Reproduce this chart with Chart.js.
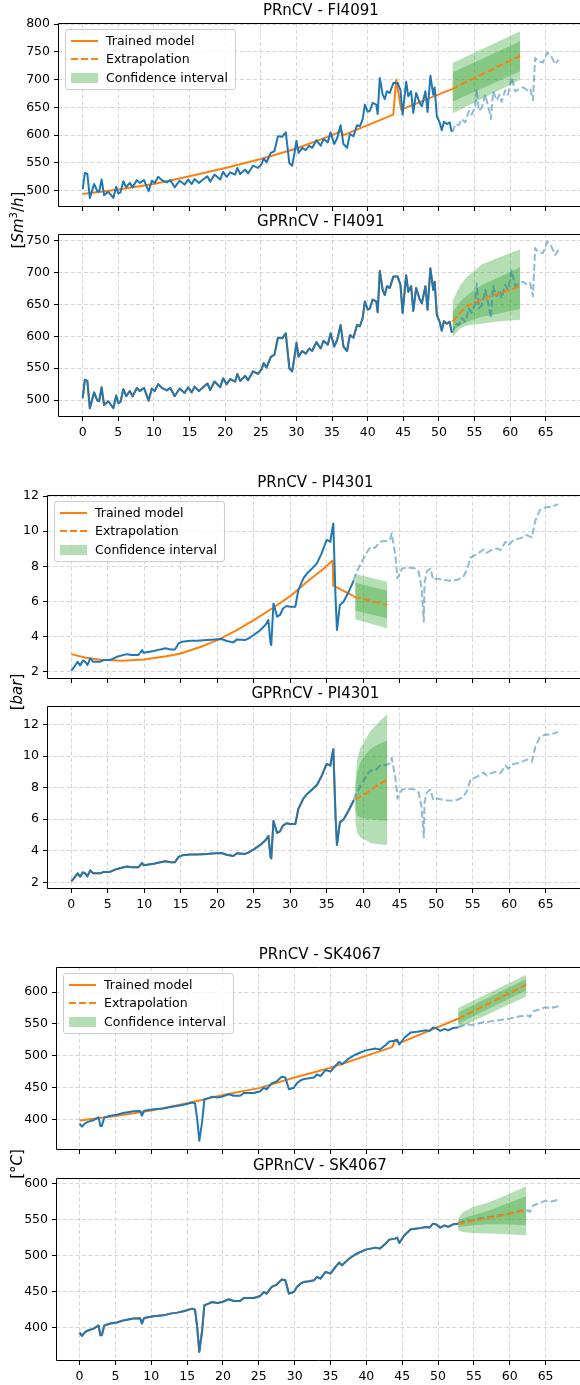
<!DOCTYPE html>
<html>
<head>
<meta charset="utf-8">
<script src="https://cdn.jsdelivr.net/npm/chart.js@4/dist/chart.umd.min.js"></script>
<style>
    body { margin: 0; background: #fff; font-family: "DejaVu Sans", sans-serif; color: #000; }
    #fig { position: relative; width: 580px; height: 1385px; overflow: hidden; }
    #fig canvas { position: absolute; left: 0; }
    .title { position: absolute; font-size: 15px; transform: translate(-50%, -50%); white-space: nowrap; }
    .ylab { position: absolute; font-size: 15px; transform: translate(-50%, -50%) rotate(-90deg); white-space: nowrap; }
    .legend { position: absolute; width: 171px; height: 61px; box-sizing: border-box; border: 1px solid #cccccc;
              border-radius: 3px; background: rgba(255, 255, 255, 0.8); font-size: 12.5px; z-index: 5; }
    .legend .row { position: absolute; left: 0; height: 16px; width: 100%; }
    .legend .txt { position: absolute; left: 40px; top: 0; line-height: 16px; }
    .legend .h { position: absolute; left: 5px; width: 27px; }
    .h.solid { top: 7px; height: 2px; background: #ff7f0e; }
    .h.dash { top: 7px; height: 2px; background: repeating-linear-gradient(90deg, #ff7f0e 0 7px, transparent 7px 10px); }
    .h.patch { top: 3px; height: 10px; background: rgba(44, 160, 44, 0.35); }
</style>
</head>
<body>
<div id="fig"></div>

<script>
// ---------- Ticks ----------
const xTicks = [0, 5, 10, 15, 20, 25, 30, 35, 40, 45, 50, 55, 60, 65];
const fiPrYTicks = [500, 550, 600, 650, 700, 750, 800];
const fiGprYTicks = [500, 550, 600, 650, 700, 750];
const piYTicks = [2, 4, 6, 8, 10, 12];
const skYTicks = [400, 450, 500, 550, 600];

// ---------- FI4091 ----------
const fiTrainX = [
    0, 0.3, 0.65, 1.0, 1.6, 2.05, 2.3, 2.65, 3.0, 3.6,
    4.3, 4.7, 5.0, 5.3, 5.7, 6.1, 6.6, 7.0, 7.6, 8.0,
    8.6, 9.25, 9.7, 10.1, 10.6, 11.1, 11.8, 12.3, 12.9, 13.6,
    14.3, 14.8, 15.3, 15.7, 16.3, 16.9, 17.5, 17.9, 18.5, 19.3,
    19.7, 20.2, 20.7, 21.4, 21.7, 22.1, 22.8, 23.2, 23.9, 24.6,
    25.1, 25.4, 25.8, 26.4, 26.9, 27.4, 28.0, 28.5, 29.0, 29.4,
    29.7, 30.0, 30.3, 30.8, 31.3, 31.8, 32.2, 32.8, 33.4, 33.8,
    34.4, 34.8, 35.3, 35.7, 36.2, 36.6, 37.1, 37.5, 38.0, 38.5,
    38.9, 39.3, 39.6, 40.0, 40.3, 40.7, 41.2, 41.4, 41.7, 42.1,
    42.4, 42.7, 43.1, 43.6, 44.2, 44.6, 44.9, 45.4, 45.7, 46.1,
    46.4, 46.8, 47.3, 47.6, 48.1, 48.4, 48.8, 49.2, 49.4, 49.7,
    50.1, 50.4, 50.7, 51.1, 51.5, 51.8
];
const fiTrainY = [
    503, 532, 530, 487, 512, 499, 498, 520, 492, 498,
    487, 507, 495, 497, 517, 506, 514, 506, 519, 514,
    519, 499, 518, 514, 525, 519, 515, 519, 506, 518,
    511, 520, 512, 521, 514, 520, 526, 516, 529, 520,
    534, 525, 533, 529, 541, 530, 538, 531, 545, 541,
    548, 558, 551, 568, 571, 598, 597, 605, 550, 545,
    566, 590, 568, 577, 573, 581, 577, 591, 581, 593,
    587, 605, 584, 594, 618, 584, 577, 602, 598, 618,
    616, 629, 655, 642, 644, 658, 655, 638, 703, 673,
    665, 679, 676, 694, 694, 681, 637, 696, 670, 679,
    640, 676, 658, 652, 679, 642, 707, 673, 686, 634,
    623, 609, 624, 620, 623, 606
];
const fiTestX = [
    51.8, 52.0, 52.3, 52.8, 53.2, 53.7, 54.2, 54.6, 55.1, 55.3,
    55.6, 56.0, 56.5, 57.0, 57.3, 57.6, 58.1, 58.5, 58.8, 59.3,
    59.7, 60.2, 60.7, 61.4, 61.8, 62.4, 62.8, 63.2, 63.5, 63.9,
    64.6, 65.2, 65.8, 66.3, 66.8
];
const fiTestY = [
    606, 608, 620, 618, 629, 623, 644, 637, 652, 683,
    644, 649, 673, 647, 629, 679, 663, 673, 660, 681,
    673, 704, 679, 684, 686, 681, 684, 663, 739, 733,
    731, 749, 741, 728, 736
];
// PRnCV
const fiPrFitX = [0, 5, 10, 15, 20, 25, 30, 35, 36.3, 36.6, 43.6, 44.0, 44.7, 51.8];
const fiPrFitY = [494, 502, 512, 526, 541, 557, 576, 600, 607, 600, 637, 700, 646, 683];
const fiPrExtX = [51.8, 61.4];
const fiPrExtY = [683, 743];
const fiPrBandX = [51.9, 61.4];
const fiPrOuterLow = [639, 700];
const fiPrOuterHigh = [730, 787];
const fiPrInnerLow = [660, 715];
const fiPrInnerHigh = [713, 769];
// GPRnCV
const fiGprFitY = fiTrainY;
const fiGprBandX = [51.9, 53, 54, 56, 58, 60, 61.4];
const fiGprExtY = [623, 637, 648, 658, 666, 673, 679];
const fiGprOuterLow = [598, 613, 617, 620, 623, 625, 626];
const fiGprOuterHigh = [655, 681, 694, 713, 722, 731, 737];
const fiGprInnerLow = [609, 617, 623, 631, 635, 640, 643];
const fiGprInnerHigh = [638, 655, 665, 681, 691, 701, 709];

// ---------- PI4301 ----------
const piTrainX = [
    0, 0.4, 0.87, 1.2, 1.6, 1.9, 2.2, 2.6, 3.0, 4.0,
    4.4, 5.3, 6.25, 7.6, 8.3, 9.2, 9.7, 9.9, 11.3, 12.2,
    12.9, 13.6, 14.2, 14.7, 15.2, 16.3, 17.2, 18.6, 19.7, 20.6,
    21.3, 22.2, 22.7, 23.8, 24.3, 25.0, 25.9, 26.6, 27.0, 27.3,
    27.4, 27.7, 28.2, 28.6, 29.0, 29.5, 30.0, 30.7, 31.1, 31.8,
    32.3, 33.0, 33.65, 34.3, 34.8, 35.0, 35.5, 35.7, 35.9, 36.2,
    36.4, 36.8, 37.3, 38.0, 38.7
];
const piTrainY = [
    2.06, 2.28, 2.57, 2.36, 2.63, 2.57, 2.38, 2.76, 2.57, 2.57,
    2.66, 2.66, 2.85, 3.0, 2.95, 2.95, 3.23, 3.08, 3.18, 3.27,
    3.33, 3.27, 3.27, 3.61, 3.71, 3.76, 3.76, 3.80, 3.84, 3.86,
    3.75, 3.67, 3.84, 3.80, 3.90, 4.09, 4.37, 4.66, 4.94, 3.61,
    3.52, 5.89, 5.13, 5.23, 5.6, 5.74, 5.7, 5.7, 6.65, 7.31,
    7.6, 7.88, 8.17, 8.74, 9.3, 9.5, 9.4, 9.97, 10.44, 6.27,
    4.37, 5.8, 5.98, 6.55, 7.2
];
const piTestX = [
    38.7, 38.9, 39.6, 40.5, 41.0, 41.6, 42.3, 43.2, 43.7, 43.9,
    44.4, 44.7, 45.3, 46.2, 47.1, 47.6, 48.0, 48.3, 48.4, 48.7,
    49.2, 49.6, 50.1, 51.0, 51.9, 52.8, 53.7, 54.2, 54.7, 55.6,
    56.5, 56.9, 57.6, 58.3, 58.8, 59.5, 59.9, 60.6, 61.5, 62.4,
    63.1, 63.6, 64.2, 64.9, 65.8, 66.7
];
const piTestY = [
    7.2, 7.5, 8.1, 8.8, 9.1, 9.05, 9.4, 9.45, 9.55, 9.88,
    8.64, 7.31, 7.88, 7.94, 7.88, 7.7, 6.74, 4.85, 7.03, 7.7,
    7.88, 7.22, 7.31, 7.22, 7.18, 7.22, 7.41, 7.79, 8.5, 8.7,
    8.96, 8.77, 8.93, 9.02, 8.93, 9.4, 9.2, 9.5, 9.59, 9.78,
    9.65, 10.63, 11.2, 11.35, 11.39, 11.54
];
// PRnCV
const piPrFitX = [0, 2, 4, 7, 10, 13, 15, 17.5, 20, 22.5, 25, 27.5, 30, 32.3, 34.6, 35.8, 35.9, 38.7];
const piPrFitY = [3.0, 2.8, 2.68, 2.63, 2.7, 2.88, 3.04, 3.38, 3.80, 4.32, 4.94, 5.6, 6.3, 7.12, 7.88, 8.33, 6.9, 6.3];
const piPrExtX = [38.7, 43.3];
const piPrExtY = [6.27, 5.8];
const piPrBandX = [38.9, 43.3];
const piPrOuterLow = [4.98, 4.46];
const piPrOuterHigh = [7.56, 7.12];
const piPrInnerLow = [5.47, 5.04];
const piPrInnerHigh = [7.07, 6.61];
// GPRnCV
const piGprFitY = piTrainY;
const piGprBandX = [38.9, 39.2, 39.6, 40.2, 41.0, 42.0, 43.3];
const piGprExtY = [7.25, 7.33, 7.43, 7.58, 7.84, 8.16, 8.52];
const piGprOuterLow = [5.84, 5.1, 4.85, 4.7, 4.5, 4.42, 4.36];
const piGprOuterHigh = [8.3, 9.9, 10.5, 11.0, 11.6, 12.1, 12.65];
const piGprInnerLow = [6.58, 6.2, 6.1, 6.03, 5.98, 5.94, 5.9];
const piGprInnerHigh = [7.84, 9.0, 9.6, 10.05, 10.45, 10.75, 10.97];

// ---------- SK4067 ----------
const skTrainX = [
    0, 0.33, 0.8, 1.25, 1.95, 2.65, 2.9, 3.1, 3.45, 4.3,
    5.2, 6.1, 7.5, 8.45, 8.7, 9.0, 10.3, 11.7, 12.65, 13.6,
    14.5, 15.7, 16.1, 16.4, 16.7, 17.1, 17.4, 18.0, 18.5, 19.2,
    19.9, 20.8, 21.5, 22.4, 22.9, 24.3, 25.2, 25.7, 26.1, 26.8,
    27.5, 28.2, 28.7, 29.2, 29.9, 30.3, 30.8, 31.3, 32.0, 32.7,
    33.1, 33.6, 34.3, 35.0, 35.7, 36.2, 36.6, 37.6, 38.5, 39.9,
    41.3, 41.9, 42.7, 43.2, 44.0, 44.3, 44.6, 45.3, 46.2, 47.1,
    48.3, 48.8, 49.3, 49.7, 50.3, 50.9, 51.4, 52.1, 52.8
];
const skTrainY = [
    393, 388.4, 394, 396.3, 398.6, 403, 389.4, 389.4, 403, 405.6,
    407, 410, 412.5, 413, 405.6, 413.4, 415.7, 417, 419.4, 420.8,
    422.7, 426.4, 425, 401, 366.2, 396.3, 431, 433.3, 435.6, 434.3,
    435.6, 439.4, 437, 437, 441.2, 441.2, 444, 449.5, 447.2, 456.5,
    459.7, 466.7, 465.7, 447.2, 449.5, 456.5, 461, 463.4, 464.4, 465.7,
    470.4, 468, 477.3, 475, 484.3, 490.3, 486.6, 495.8, 501.9, 508.3,
    511.1, 509.7, 516.7, 522.2, 523.6, 525, 517.6, 528.2, 536.6, 537.5,
    539.8, 538.9, 544.4, 543.5, 538.9, 542.1, 539.8, 543.5, 544.4
];
const skTestX = [52.8, 53.9, 54.9, 55.8, 57.2, 58.6, 60.0, 61.4, 62.6, 62.8, 63.3, 64.0, 64.9, 65.6, 66.8];
const skTestY = [544.4, 549, 548.1, 551.4, 553.7, 556, 558.3, 562, 563, 560.6, 570, 572.2, 576, 574.5, 577.8];
// PRnCV
const skPrFitX = [0, 5, 10, 15, 20, 25, 30, 34.8, 43.6, 44.0, 44.6, 52.8];
const skPrFitY = [397.9, 405.2, 413.6, 425.2, 438.3, 449, 465.6, 480.3, 513.4, 525, 519.7, 558];
const skPrExtX = [52.8, 62.3];
const skPrExtY = [558, 611.5];
const skPrBandX = [52.8, 62.3];
const skPrOuterLow = [543.3, 593.2];
const skPrOuterHigh = [574.8, 627.3];
const skPrInnerLow = [550, 602.6];
const skPrInnerHigh = [568, 620.5];
// GPRnCV
const skGprFitY = skTrainY;
const skGprBandX = [52.8, 53.5, 54.9, 57.2, 59.5, 62.3];
const skGprExtY = [544.4, 545.5, 548, 552.5, 557, 563];
const skGprOuterLow = [535.2, 532.9, 531.5, 530.6, 529.6, 528.2];
const skGprOuterHigh = [551.4, 560.6, 567.6, 574.5, 583.8, 596.3];
const skGprInnerLow = [539, 540.5, 542, 543.5, 543.5, 542.1];
const skGprInnerHigh = [548, 552, 556, 563, 572, 582.4];

// ---------- Estilo ----------
const BLUE = '#1f77b4';
const BLUE_LIGHT = 'rgba(31, 119, 180, 0.5)';
const ORANGE = '#ff7f0e';
const BAND = 'rgba(44, 160, 44, 0.35)';
const GRID = '#d6d6d6';
const FONT = "'DejaVu Sans', sans-serif";
const PAD_TOP = 12;
const AXIS_H = 24;

const fig = document.getElementById('fig');

function pts(xs, ys) {
    return xs.map((x, i) => ({ x: x, y: ys[i] }));
}

function datasets(s) {
    return [
        { data: pts(s.trainX, s.trainY), borderColor: BLUE, borderWidth: 2 },
        { data: pts(s.fitX, s.fitY), borderColor: ORANGE, borderWidth: 2 },
        { data: pts(s.extX, s.extY), borderColor: ORANGE, borderWidth: 2, borderDash: [7, 3] },
        { data: pts(s.testX, s.testY), borderColor: BLUE_LIGHT, borderWidth: 2, borderDash: [7, 3] },
        { data: pts(s.bandX, s.innerLow), borderColor: 'transparent', borderWidth: 0, fill: false },
        { data: pts(s.bandX, s.innerHigh), borderColor: 'transparent', borderWidth: 0, fill: '-1', backgroundColor: BAND },
        { data: pts(s.bandX, s.outerLow), borderColor: 'transparent', borderWidth: 0, fill: false },
        { data: pts(s.bandX, s.outerHigh), borderColor: 'transparent', borderWidth: 0, fill: '-1', backgroundColor: BAND }
    ];
}

// Marco tipo matplotlib (izquierda, arriba, abajo)
const framePlugin = {
    id: 'frame',
    afterDatasetsDraw(chart) {
        const { ctx, chartArea: a } = chart;
        const l = Math.round(a.left) + 0.5;
        const t = Math.round(a.top) + 0.5;
        const b = Math.round(a.bottom) - 0.5;
        ctx.save();
        ctx.strokeStyle = '#000';
        ctx.lineWidth = 1;
        ctx.beginPath();
        ctx.moveTo(a.right + 2, t);
        ctx.lineTo(l, t);
        ctx.lineTo(l, b);
        ctx.lineTo(a.right + 2, b);
        ctx.stroke();
        ctx.restore();
    }
};

function addText(cls, html, x, y) {
    const d = document.createElement('div');
    d.className = cls;
    d.innerHTML = html;
    d.style.left = x + 'px';
    d.style.top = y + 'px';
    fig.appendChild(d);
}

function addLegend(x, y) {
    const d = document.createElement('div');
    d.className = 'legend';
    d.style.left = x + 'px';
    d.style.top = y + 'px';
    d.innerHTML = `
        <div class="row" style="top:3px"><div class="h solid"></div><div class="txt">Trained model</div></div>
        <div class="row" style="top:21px"><div class="h dash"></div><div class="txt">Extrapolation</div></div>
        <div class="row" style="top:40px"><div class="h patch"></div><div class="txt">Confidence interval</div></div>
    `;
    fig.appendChild(d);
}

function renderPanel(p) {
    const h = (p.bottom - p.top) + PAD_TOP + AXIS_H;
    const canvas = document.createElement('canvas');
    canvas.width = 580;
    canvas.height = h;
    canvas.style.top = (p.top - PAD_TOP) + 'px';
    canvas.style.width = '580px';
    canvas.style.height = h + 'px';
    fig.appendChild(canvas);

    new Chart(canvas, {
        type: 'line',
        data: { datasets: datasets(p.series) },
        plugins: [framePlugin],
        options: {
            responsive: false,
            animation: false,
            events: [],
            devicePixelRatio: 1,
            layout: { padding: { top: PAD_TOP, left: 0, right: 0, bottom: 0 } },
            elements: {
                point: { radius: 0 },
                line: { tension: 0, borderJoinStyle: 'round', borderCapStyle: 'butt' }
            },
            plugins: { legend: { display: false }, tooltip: { enabled: false } },
            scales: {
                x: {
                    type: 'linear',
                    min: p.xMin,
                    max: p.xMax,
                    afterBuildTicks: s => { s.ticks = xTicks.map(v => ({ value: v })); },
                    afterFit: s => { s.height = AXIS_H; },
                    grid: { color: GRID, lineWidth: 1, borderDash: [4, 2.5], drawTicks: true, tickLength: 4,
                            tickColor: '#000', tickWidth: 1, tickBorderDash: [] },
                    border: { display: false, dash: [4, 2.5] },
                    ticks: { display: p.showX, color: '#000', padding: 4, maxRotation: 0, autoSkip: false,
                             font: { family: FONT, size: 12.5 } }
                },
                y: {
                    type: 'linear',
                    min: p.yMin,
                    max: p.yMax,
                    afterBuildTicks: s => { s.ticks = p.yTicks.map(v => ({ value: v })); },
                    afterFit: s => { s.width = p.left; },
                    grid: { color: GRID, lineWidth: 1, borderDash: [4, 2.5], drawTicks: true, tickLength: 4,
                            tickColor: '#000', tickWidth: 1, tickBorderDash: [] },
                    border: { display: false, dash: [4, 2.5] },
                    ticks: { color: '#000', padding: 4, font: { family: FONT, size: 12.5 } }
                }
            }
        }
    });
}

const fiSeriesPr = {
    trainX: fiTrainX, trainY: fiTrainY, fitX: fiPrFitX, fitY: fiPrFitY,
    extX: fiPrExtX, extY: fiPrExtY, testX: fiTestX, testY: fiTestY,
    bandX: fiPrBandX, innerLow: fiPrInnerLow, innerHigh: fiPrInnerHigh, outerLow: fiPrOuterLow, outerHigh: fiPrOuterHigh
};
const fiSeriesGpr = {
    trainX: fiTrainX, trainY: fiTrainY, fitX: fiTrainX, fitY: fiGprFitY,
    extX: fiGprBandX, extY: fiGprExtY, testX: fiTestX, testY: fiTestY,
    bandX: fiGprBandX, innerLow: fiGprInnerLow, innerHigh: fiGprInnerHigh, outerLow: fiGprOuterLow, outerHigh: fiGprOuterHigh
};
const piSeriesPr = {
    trainX: piTrainX, trainY: piTrainY, fitX: piPrFitX, fitY: piPrFitY,
    extX: piPrExtX, extY: piPrExtY, testX: piTestX, testY: piTestY,
    bandX: piPrBandX, innerLow: piPrInnerLow, innerHigh: piPrInnerHigh, outerLow: piPrOuterLow, outerHigh: piPrOuterHigh
};
const piSeriesGpr = {
    trainX: piTrainX, trainY: piTrainY, fitX: piTrainX, fitY: piGprFitY,
    extX: piGprBandX, extY: piGprExtY, testX: piTestX, testY: piTestY,
    bandX: piGprBandX, innerLow: piGprInnerLow, innerHigh: piGprInnerHigh, outerLow: piGprOuterLow, outerHigh: piGprOuterHigh
};
const skSeriesPr = {
    trainX: skTrainX, trainY: skTrainY, fitX: skPrFitX, fitY: skPrFitY,
    extX: skPrExtX, extY: skPrExtY, testX: skTestX, testY: skTestY,
    bandX: skPrBandX, innerLow: skPrInnerLow, innerHigh: skPrInnerHigh, outerLow: skPrOuterLow, outerHigh: skPrOuterHigh
};
const skSeriesGpr = {
    trainX: skTrainX, trainY: skTrainY, fitX: skTrainX, fitY: skGprFitY,
    extX: skGprBandX, extY: skGprExtY, testX: skTestX, testY: skTestY,
    bandX: skGprBandX, innerLow: skGprInnerLow, innerHigh: skGprInnerHigh, outerLow: skGprOuterLow, outerHigh: skGprOuterHigh
};

const panels = [
    { title: 'PRnCV - FI4091', top: 23, bottom: 207, left: 58, xMin: -3.47, xMax: 69.8,
      yMin: 470.6, yMax: 802, yTicks: fiPrYTicks, showX: false, legend: true, series: fiSeriesPr },
    { title: 'GPRnCV - FI4091', top: 234, bottom: 417, left: 58, xMin: -3.47, xMax: 69.8,
      yMin: 473.3, yMax: 761, yTicks: fiGprYTicks, showX: true, legend: false, series: fiSeriesGpr },
    { title: 'PRnCV - PI4301', top: 495, bottom: 679, left: 47, xMin: -3.33, xMax: 69.7,
      yMin: 1.585, yMax: 12.06, yTicks: piYTicks, showX: false, legend: true, series: piSeriesPr },
    { title: 'GPRnCV - PI4301', top: 706, bottom: 889, left: 47, xMin: -3.33, xMax: 69.7,
      yMin: 1.576, yMax: 13.18, yTicks: piYTicks, showX: true, legend: false, series: piSeriesGpr },
    { title: 'PRnCV - SK4067', top: 967, bottom: 1150, left: 56, xMin: -3.29, xMax: 69.8,
      yMin: 351.7, yMax: 639.4, yTicks: skYTicks, showX: false, legend: true, series: skSeriesPr },
    { title: 'GPRnCV - SK4067', top: 1178, bottom: 1361, left: 56, xMin: -3.29, xMax: 69.8,
      yMin: 353.6, yMax: 607.8, yTicks: skYTicks, showX: true, legend: false, series: skSeriesGpr }
];

panels.forEach(p => {
    renderPanel(p);
    // centro del eje completo (el borde derecho queda fuera de la figura)
    const cx = p.left + (583.7 - p.left) / 2;
    addText('title', p.title, cx, p.top - 13);
    if (p.legend) addLegend(p.left + 7, p.top + 6);
});

addText('ylab', '[<i>Sm</i><sup style="font-size:10px">3</sup>/<i>h</i>]', 17, 220);
addText('ylab', '[<i>bar</i>]', 17, 692);
addText('ylab', '[°<i>C</i>]', 17, 1164);
</script>
</body>
</html>
